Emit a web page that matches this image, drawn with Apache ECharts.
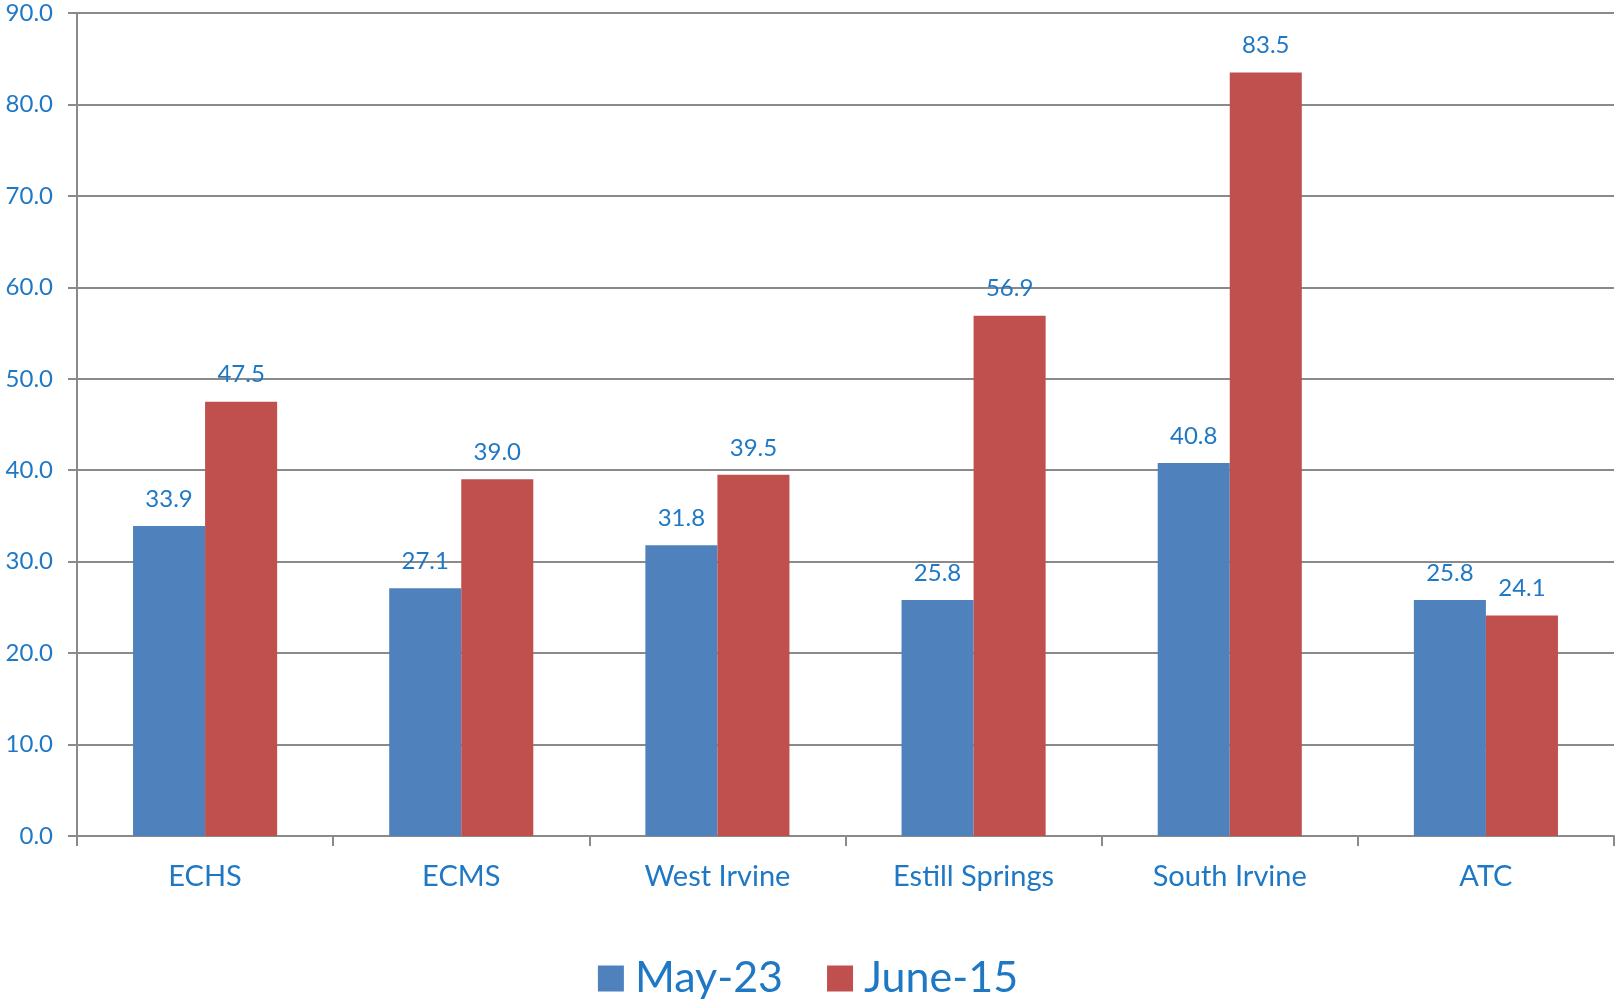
<!DOCTYPE html>
<html>
<head>
<meta charset="utf-8">
<script src="https://cdn.jsdelivr.net/npm/echarts@6/dist/echarts.min.js"></script>
<style>
html,body{margin:0;padding:0;background:#fff;}
#chart{width:1616px;height:1000px;}
</style>
</head>
<body>
<div id="chart"></div>
<script>
const categories = ['ECHS', 'ECMS', 'West Irvine', 'Estill Springs', 'South Irvine', 'ATC'];
const seriesNames = ['May-23', 'June-15'];
const may23 = [33.9, 27.1, 31.8, 25.8, 40.8, 25.8];
const june15 = [47.5, 39.0, 39.5, 56.9, 83.5, 24.1];
const yTicks = { min: 0, max: 90, interval: 10 };

const FONT = 'Lato';
const TEXT = '#1f78c4';
const GRID = '#8a8a8a';

const chart = echarts.init(document.getElementById('chart'));
const labelCfg = {
  show: true, position: 'top', distance: 15,
  color: TEXT, fontFamily: FONT, fontSize: 24,
  formatter: p => p.value.toFixed(1)
};
chart.setOption({
  animation: false,
  textStyle: { fontFamily: FONT },
  color: ['#4F81BD', '#C0504D'],
  grid: { left: 77, right: 2, top: 13, bottom: 164, containLabel: false },
  legend: {
    data: seriesNames,
    left: 'center', top: 952,
    itemWidth: 26, itemHeight: 26, itemGap: 44,
    icon: 'rect',
    textStyle: { color: TEXT, fontFamily: FONT, fontSize: 43, padding: [0, 0, 0, 6] }
  },
  xAxis: {
    type: 'category',
    data: categories,
    axisLine: { lineStyle: { color: GRID, width: 2 } },
    axisTick: { show: true, length: 10, lineStyle: { color: GRID, width: 2 } },
    axisLabel: { color: TEXT, fontFamily: FONT, fontSize: 29, margin: 26 }
  },
  yAxis: {
    type: 'value',
    min: yTicks.min, max: yTicks.max, interval: yTicks.interval,
    axisLine: { show: true, lineStyle: { color: GRID, width: 2 } },
    axisTick: { show: true, length: 9, lineStyle: { color: GRID, width: 2 } },
    splitLine: { lineStyle: { color: GRID, width: 2 } },
    axisLabel: { color: TEXT, fontFamily: FONT, fontSize: 24, margin: 24,
      formatter: v => v.toFixed(1) }
  },
  series: [
    { name: seriesNames[0], type: 'bar', data: may23, barGap: '0%', barCategoryGap: '43.75%', label: labelCfg },
    { name: seriesNames[1], type: 'bar', data: june15, barGap: '0%', barCategoryGap: '43.75%', label: labelCfg }
  ]
});
</script>
</body>
</html>
